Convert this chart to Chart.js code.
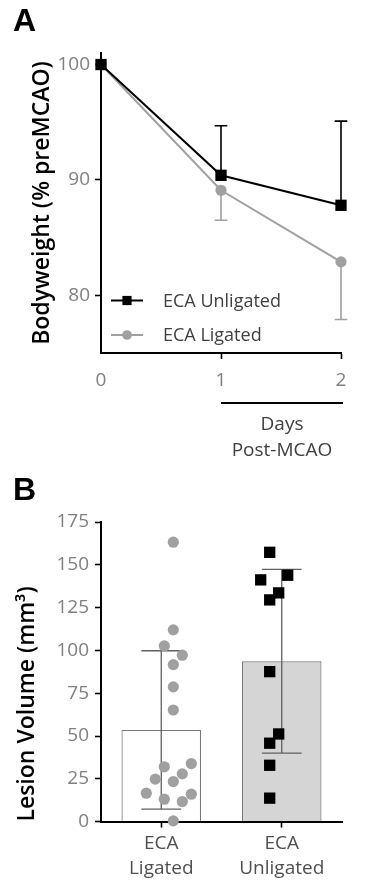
<!DOCTYPE html>
<html><head><meta charset="utf-8">
<script src="https://cdn.jsdelivr.net/npm/chart.js@4.4.1/dist/chart.umd.min.js"></script>
<style>
html,body{margin:0;padding:0;background:#fff;width:375px;height:882px;overflow:hidden;}
#wrapA{position:absolute;left:0;top:0;width:375px;height:465px;}
#wrapB{position:absolute;left:0;top:465px;width:375px;height:417px;}
canvas{display:block;}
</style></head><body>
<div id="wrapA"><canvas id="cA" width="375" height="465"></canvas></div>
<div id="wrapB"><canvas id="cB" width="375" height="417"></canvas></div>
<script>
// ---------- Panel A data ----------
const days = [0, 1, 2];
const unligatedMean = [100, 90.4, 87.8];
const unligatedSD = [0, 4.3, 7.3];
const ligatedMean = [100, 89.1, 82.9];
const ligatedSD = [0, 2.6, 5.0];
const seriesNames = ['ECA Unligated', 'ECA Ligated'];
const bwTicks = [80, 90, 100];
const dayTicks = [0, 1, 2];
const bracketDays = [1, 2];
const xTitleLines = ['Days', 'Post-MCAO'];
const yTitleA = 'Bodyweight (% preMCAO)';

// ---------- Panel B data ----------
const groupLabels = [['ECA', 'Ligated'], ['ECA', 'Unligated']];
const ligatedVolumes = [163.2, 112.0, 102.6, 97.2, 91.7, 78.7, 65.2, 33.9, 32.0, 27.9, 24.8, 23.4, 16.6, 16.0, 13.1, 11.7, 0.4];
const unligatedVolumes = [157.3, 143.9, 141.2, 133.6, 129.5, 87.6, 51.2, 45.8, 32.9, 13.7];
const volumeTicks = [0, 25, 50, 75, 100, 125, 150, 175];
const yTitleB = 'Lesion Volume (mm\u00B3)';

// ---------- helpers ----------
const mean = a => a.reduce((s, v) => s + v, 0) / a.length;
const sd = a => { const m = mean(a); return Math.sqrt(a.reduce((s, v) => s + (v - m) * (v - m), 0) / (a.length - 1)); };

const FONT = "'Open Sans', 'Noto Sans', sans-serif";
Chart.defaults.font.family = FONT;
Chart.defaults.animation = false;
const TICK_GRAY = '#808080';
const TEXT_DARK = '#404040';

// ---------- Panel A plugins ----------
const errorBarsA = {
  id: 'errorBarsA',
  beforeDatasetsDraw(chart) {
    const ctx = chart.ctx, y = chart.scales.y;
    chart.data.datasets.forEach((ds, di) => {
      const meta = chart.getDatasetMeta(di);
      meta.data.forEach((pt, i) => {
        const s = ds.sd[i];
        if (!s) return;
        const yy = y.getPixelForValue(ds.data[i].y + ds.errorSide * s);
        ctx.save();
        ctx.strokeStyle = ds.borderColor;
        ctx.lineWidth = 1.6;
        ctx.beginPath();
        ctx.moveTo(pt.x, pt.y); ctx.lineTo(pt.x, yy);
        ctx.moveTo(pt.x - 6.3, yy); ctx.lineTo(pt.x + 6.3, yy);
        ctx.stroke();
        ctx.restore();
      });
    });
  }
};
const legendA = {
  id: 'legendA',
  afterDraw(chart) {
    const { ctx, chartArea } = chart;
    const x0 = chartArea.left + 10;
    const rows = [chartArea.bottom - 52.5, chartArea.bottom - 18];
    chart.data.datasets.forEach((ds, i) => {
      const y = rows[i];
      ctx.save();
      ctx.strokeStyle = ds.borderColor; ctx.lineWidth = 2;
      ctx.beginPath(); ctx.moveTo(x0, y); ctx.lineTo(x0 + 32, y); ctx.stroke();
      ctx.fillStyle = ds.backgroundColor;
      if (ds.pointStyle === 'rect') ctx.fillRect(x0 + 16 - 4.6, y - 4.6, 9.2, 9.2);
      else { ctx.beginPath(); ctx.arc(x0 + 16, y, 4.8, 0, Math.PI * 2); ctx.fill(); }
      ctx.fillStyle = TEXT_DARK;
      ctx.font = "18px " + FONT;
      ctx.textBaseline = 'middle';
      ctx.textAlign = 'left';
      ctx.fillText(ds.label, x0 + 52, y + 1);
      ctx.restore();
    });
  }
};
const bracketA = {
  id: 'bracketA',
  afterDraw(chart) {
    const { ctx, chartArea } = chart;
    const x = chart.scales.x;
    const x1 = x.getPixelForValue(bracketDays[0]), x2 = x.getPixelForValue(bracketDays[1]);
    const y = chartArea.bottom + 50;
    ctx.save();
    ctx.strokeStyle = '#000'; ctx.lineWidth = 1.8;
    ctx.beginPath(); ctx.moveTo(x1, y); ctx.lineTo(x2 + 2, y); ctx.stroke();
    ctx.fillStyle = TEXT_DARK;
    ctx.font = "19px " + FONT;
    ctx.textAlign = 'center'; ctx.textBaseline = 'alphabetic';
    xTitleLines.forEach((t, i) => ctx.fillText(t, (x1 + x2) / 2 + 1, y + 27 + i * 26));
    ctx.restore();
  }
};

const chartA = new Chart(document.getElementById('cA'), {
  type: 'line',
  data: {
    datasets: [
      { label: seriesNames[0], data: days.map((d, i) => ({ x: d, y: unligatedMean[i] })), sd: unligatedSD, errorSide: 1,
        borderColor: '#000', backgroundColor: '#000', borderWidth: 2, pointStyle: 'rect', pointRadius: 8,
        pointBorderWidth: 0, clip: false, tension: 0 },
      { label: seriesNames[1], data: days.map((d, i) => ({ x: d, y: ligatedMean[i] })), sd: ligatedSD, errorSide: -1,
        borderColor: '#a0a0a0', backgroundColor: '#a0a0a0', borderWidth: 2, pointStyle: 'circle', pointRadius: 5.6,
        pointBorderWidth: 0, clip: false, tension: 0 }
    ]
  },
  options: {
    responsive: false, animation: false, devicePixelRatio: 1,
    layout: { padding: { left: 13, right: 34, top: 0, bottom: 79 } },
    plugins: {
      legend: { display: false }, tooltip: { enabled: false },
      title: { display: true, text: 'A', align: 'start', color: '#000',
        font: { family: "'Liberation Sans', Arial, sans-serif", size: 32, weight: 'bold' }, padding: { top: 3, bottom: 11.6 } }
    },
    scales: {
      x: {
        type: 'linear', min: 0, max: 2,
        afterBuildTicks: s => { s.ticks = dayTicks.map(v => ({ value: v })); },
        afterFit: s => { s.paddingLeft = 0; s.paddingRight = 0; s.height = 33; },
        grid: { drawOnChartArea: false, drawTicks: true, tickLength: 6, tickWidth: 1.6,
          tickColor: c => (c.tick && c.tick.value === 0) ? 'rgba(0,0,0,0)' : '#000' },
        border: { display: true, color: '#000', width: 2 },
        ticks: { color: TICK_GRAY, font: { size: 19 }, padding: 10, maxRotation: 0, callback: v => String(v) }
      },
      y: {
        min: 75, max: 101,
        afterBuildTicks: s => { s.ticks = bwTicks.map(v => ({ value: v })); },
        afterFit: s => { s.width = 88; s.paddingTop = 0; s.paddingBottom = 0; },
        grid: { drawOnChartArea: false, drawTicks: true, tickLength: 6, tickWidth: 1.6, tickColor: '#000' },
        border: { display: true, color: '#000', width: 2 },
        ticks: { color: TICK_GRAY, font: { size: 19 }, padding: 5, callback: v => String(v) },
        title: { display: true, text: yTitleA, color: '#000', font: { size: 23, weight: '600' }, padding: { top: 16, bottom: 0 } }
      }
    }
  },
  plugins: [errorBarsA, legendA, bracketA]
});

// ---------- Panel B ----------
const errorBarsB = {
  id: 'errorBarsB',
  afterDatasetDraw(chart, args) {
    const ds = chart.data.datasets[args.index];
    if (!ds.sd) return;
    const ctx = chart.ctx, y = chart.scales.y;
    args.meta.data.forEach((bar, i) => {
      const m = ds.data[i], s = ds.sd[i];
      const half = bar.width / 4;
      const yt = y.getPixelForValue(m + s), yb = y.getPixelForValue(m - s);
      ctx.save();
      ctx.strokeStyle = '#606060'; ctx.lineWidth = 1.3;
      ctx.beginPath();
      ctx.moveTo(bar.x, yt); ctx.lineTo(bar.x, yb);
      ctx.moveTo(bar.x - half, yt); ctx.lineTo(bar.x + half, yt);
      ctx.moveTo(bar.x - half, yb); ctx.lineTo(bar.x + half, yb);
      ctx.stroke();
      ctx.restore();
    });
  }
};

const chartB = new Chart(document.getElementById('cB'), {
  type: 'bar',
  data: {
    labels: groupLabels,
    datasets: [
      { type: 'scatter', label: 'ECA Ligated', data: ligatedVolumes.map(v => ({ x: 0, y: v })), xAxisID: 'x2',
        pointStyle: 'circle', pointRadius: 5.6, backgroundColor: '#a0a0a0', borderColor: '#a0a0a0', pointBorderWidth: 0, borderWidth: 0, clip: false, order: 0 },
      { type: 'scatter', label: 'ECA Unligated', data: unligatedVolumes.map(v => ({ x: 1, y: v })), xAxisID: 'x2',
        pointStyle: 'rect', pointRadius: 8, backgroundColor: '#000', borderColor: '#000', pointBorderWidth: 0, borderWidth: 0, clip: false, order: 0 },
      { type: 'bar', label: 'Mean', data: [mean(ligatedVolumes), mean(unligatedVolumes)], sd: [sd(ligatedVolumes), sd(unligatedVolumes)],
        backgroundColor: ['#ffffff', '#d5d5d5'], borderColor: '#787878', borderWidth: 1.2, grouped: false,
        barPercentage: 0.66, categoryPercentage: 1, order: 2, xAxisID: 'x' }
    ]
  },
  options: {
    responsive: false, animation: false, devicePixelRatio: 1,
    layout: { padding: { left: 13, right: 33, top: 0, bottom: 0 } },
    plugins: {
      legend: { display: false }, tooltip: { enabled: false },
      title: { display: true, text: 'B', align: 'start', color: '#000',
        font: { family: "'Liberation Sans', Arial, sans-serif", size: 32, weight: 'bold' }, padding: { top: 7, bottom: 11.6 } }
    },
    scales: {
      x: {
        type: 'category',
        afterFit: s => { s.paddingLeft = 0; s.paddingRight = 0; s.height = 60.4; },
        grid: { offset: false, drawOnChartArea: false, drawTicks: true, tickLength: 6, tickWidth: 1.6, tickColor: '#000' },
        border: { display: true, color: '#000', width: 2 },
        ticks: { color: '#505050', font: { size: 19, lineHeight: 1.35 }, padding: 3, maxRotation: 0, autoSkip: false }
      },
      x2: { type: 'linear', min: -0.5, max: 1.5, display: false },
      y: {
        min: 0, max: 175,
        afterBuildTicks: s => { s.ticks = volumeTicks.map(v => ({ value: v })); },
        afterFit: s => { s.width = 88; s.paddingTop = 0; s.paddingBottom = 0; },
        grid: { drawOnChartArea: false, drawTicks: true, tickLength: 6, tickWidth: 1.6, tickColor: '#000' },
        border: { display: true, color: '#000', width: 2 },
        ticks: { color: TICK_GRAY, font: { size: 19 }, padding: 6, callback: v => String(v) },
        title: { display: true, text: yTitleB, align: 'start', color: '#000', font: { size: 23, weight: '600' }, padding: { top: 1, bottom: 0 } }
      }
    }
  },
  plugins: [errorBarsB]
});

// Beeswarm spreading of the dots, computed through the chart's own scales
function swarm(values, group, chart) {
  const ys = chart.scales.y, xs = chart.scales.x2;
  const unit = xs.getPixelForValue(1) - xs.getPixelForValue(0);
  const slotPx = 9, Ax = 9.5, Ay = 21;
  const idx = values.map((v, i) => i).sort((a, b) => values[a] - values[b]);
  const placed = [];
  const out = new Array(values.length);
  idx.forEach(i => {
    const py = ys.getPixelForValue(values[i]);
    for (let k = 0; k < 40; k++) {
      const slot = k === 0 ? 0 : (k % 2 ? (k + 1) / 2 : -k / 2);
      const px = slot * slotPx;
      if (placed.every(p => ((p.px - px) / Ax) ** 2 + ((p.py - py) / Ay) ** 2 >= 1)) {
        placed.push({ px, py });
        out[i] = { x: group + px / unit, y: values[i] };
        break;
      }
    }
  });
  return out;
}
chartB.data.datasets[0].data = swarm(ligatedVolumes, 0, chartB);
chartB.data.datasets[1].data = swarm(unligatedVolumes, 1, chartB);
chartB.update('none');
</script>
</body></html>
